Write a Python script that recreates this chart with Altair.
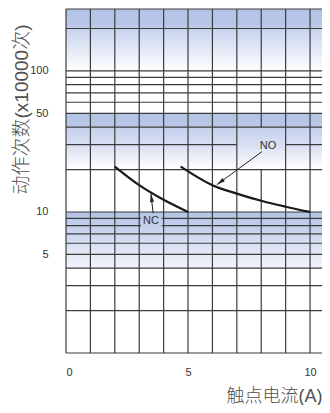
import altair as alt
import pandas as pd

# ---------------- data ----------------
x_label_values = [0, 5, 10]
y_label_values = [100, 50, 10, 5]
h_grid_values = [200, 100, 90, 80, 70, 60, 50, 40, 30, 20, 10, 9, 8, 7, 6, 5, 4, 3, 2]
v_grid_values = [1, 2, 3, 4, 5, 6, 7, 8, 9, 10]

nc_current = [2, 3, 4, 5]
nc_life = [21, 15.5, 12.2, 10]
no_current = [4.7, 6, 7, 8, 9, 10]
no_life = [21, 15.5, 13.5, 12.0, 10.9, 10]

band_top = [275, 50, 10]
band_bottom = [100, 20, 4]

label_text = ["NO", "NC"]
label_x = [8.28, 3.48]
label_y = [29.5, 8.6]
arrow_x_start = [8.03, 3.57]
arrow_y_start = [26.8, 9.8]
arrow_x_end = [6.18, 3.48]
arrow_y_end = [15.6, 13.5]
arrow_angle = [233, 353]

X_MAX = 10.49
Y_MIN = 1
Y_MAX = 275

# ---------------- tables ----------------
h_rows = []
for v in h_grid_values:
    if v == 30:
        h_rows += [dict(y=v, x1=0, x2=7), dict(y=v, x1=9, x2=X_MAX)]
    else:
        h_rows.append(dict(y=v, x1=0, x2=X_MAX))
h_rows += [dict(y=Y_MAX, x1=0, x2=X_MAX), dict(y=Y_MIN, x1=0, x2=X_MAX)]
h_df = pd.DataFrame(h_rows)

v_rows = []
for v in v_grid_values:
    if v == 8:
        v_rows += [dict(x=v, y1=Y_MIN, y2=20), dict(x=v, y1=40, y2=Y_MAX)]
    else:
        v_rows.append(dict(x=v, y1=Y_MIN, y2=Y_MAX))
v_rows.append(dict(x=0, y1=Y_MIN, y2=Y_MAX))
v_df = pd.DataFrame(v_rows)

curve_df = pd.concat([
    pd.DataFrame({"current": nc_current, "life": nc_life, "series": "NC"}),
    pd.DataFrame({"current": no_current, "life": no_life, "series": "NO"}),
])
band_df = pd.DataFrame({"band": [0, 1, 2], "top": band_top, "bottom": band_bottom,
                        "x1": [0, 0, 0], "x2": [X_MAX] * 3})
label_df = pd.DataFrame({"text": label_text, "x": label_x, "y": label_y})
nc_box_df = pd.DataFrame({"x1": [3.07], "x2": [3.92], "y1": [9.75], "y2": [7.75]})
arrow_df = pd.DataFrame({"xs": arrow_x_start, "ys": arrow_y_start,
                         "xe": arrow_x_end, "ye": arrow_y_end, "angle": arrow_angle})

FONT = "Liberation Sans, Arial, Noto Sans CJK SC, sans-serif"

x_scale = alt.Scale(domain=[0, X_MAX], nice=False, zero=False)
y_scale = alt.Scale(type="log", domain=[Y_MIN, Y_MAX], nice=False)

x_axis = alt.Axis(values=x_label_values, grid=False, ticks=False, tickSize=0, domain=False,
                  labelFont=FONT, labelFontSize=11, labelColor="#333333",
                  labelPadding=19, labelBaseline="middle",
                  title="触点电流(A)", titleFont=FONT, titleFontSize=18,
                  titleFontWeight=300, titleColor="#505050",
                  titleAnchor="end", titleAlign="right", titleX=256, titleY=43,
                  titleBaseline="middle")
y_axis = alt.Axis(values=y_label_values, grid=False, ticks=False, tickSize=0, domain=False,
                  labelFont=FONT, labelFontSize=11, labelColor="#333333",
                  labelPadding=18, labelBaseline="middle",
                  title="动作次数(x10000次)", titleFont=FONT, titleFontSize=19,
                  titleFontWeight=300, titleColor="#505050",
                  titleAngle=270, titleAlign="center", titleBaseline="middle",
                  titleX=-45, titleY=100)


def gradient(stops):
    return alt.Gradient(gradient="linear",
                        stops=[alt.GradientStop(offset=o, color=c) for o, c in stops],
                        x1=0, x2=0, y1=0, y2=1)


band_styles = [
    [(0, "#b2c2e5"), (0.28, "#b9c8e8"), (0.3, "#c6d2ee"), (1, "#ffffff")],
    [(0, "#b4c4e6"), (0.22, "#bac8e8"), (0.24, "#c3cfec"), (0.56, "#d9e0f3"), (1, "#ffffff")],
    [(0, "#b3c3e6"), (1, "#f3f5fb")],
]

layers = []
for i, st in enumerate(band_styles):
    layers.append(
        alt.Chart(band_df).transform_filter(alt.datum.band == i)
        .mark_rect(fill=gradient(st), strokeWidth=0)
        .encode(x=alt.X("x1:Q", scale=x_scale, axis=x_axis),
                x2="x2:Q",
                y=alt.Y("top:Q", scale=y_scale, axis=y_axis),
                y2="bottom:Q")
    )

h_rules = alt.Chart(h_df).mark_rule(color="#3c3c3c", strokeWidth=1.2).encode(
    x=alt.X("x1:Q", scale=x_scale, axis=x_axis), x2="x2:Q",
    y=alt.Y("y:Q", scale=y_scale, axis=y_axis))
v_rules = alt.Chart(v_df).mark_rule(color="#3c3c3c", strokeWidth=1.2).encode(
    x=alt.X("x:Q", scale=x_scale, axis=x_axis),
    y=alt.Y("y1:Q", scale=y_scale, axis=y_axis), y2="y2:Q")

nc_box = alt.Chart(nc_box_df).mark_rect(
    fill=gradient([(0, "#b6c5e7"), (1, "#c8d3ed")]), strokeWidth=0).encode(
    x=alt.X("x1:Q", scale=x_scale, axis=x_axis), x2="x2:Q",
    y=alt.Y("y1:Q", scale=y_scale, axis=y_axis), y2="y2:Q")

curves = alt.Chart(curve_df).mark_line(color="#1a1a1a", strokeWidth=2.2,
                                       interpolate="monotone").encode(
    x=alt.X("current:Q", scale=x_scale, axis=x_axis),
    y=alt.Y("life:Q", scale=y_scale, axis=y_axis),
    detail="series:N")

arrow_lines = alt.Chart(arrow_df).mark_rule(color="#222222", strokeWidth=1).encode(
    x=alt.X("xs:Q", scale=x_scale, axis=x_axis), x2="xe:Q",
    y=alt.Y("ys:Q", scale=y_scale, axis=y_axis), y2="ye:Q")

arrow_heads = alt.Chart(arrow_df).mark_point(
    shape="M0,0L0.42,1.8L-0.42,1.8Z", filled=True, color="#222222",
    size=90, opacity=1, strokeWidth=0).encode(
    x=alt.X("xe:Q", scale=x_scale, axis=x_axis),
    y=alt.Y("ye:Q", scale=y_scale, axis=y_axis),
    angle=alt.Angle("angle:Q", scale=None))

labels = alt.Chart(label_df).mark_text(font=FONT, fontSize=11, color="#333333",
                                       align="center", baseline="middle").encode(
    x=alt.X("x:Q", scale=x_scale, axis=x_axis),
    y=alt.Y("y:Q", scale=y_scale, axis=y_axis),
    text="text:N")

chart = alt.layer(*layers, h_rules, v_rules, nc_box, curves, arrow_lines, arrow_heads,
                  labels).properties(
    width=256, height=344,
    autosize=alt.AutoSizeParams(type="none"),
    padding={"left": 58, "top": 1, "right": 0, "bottom": 52},
).configure_view(stroke=None)

chart.save("out.html", embed_options={"renderer": "svg", "actions": False})
